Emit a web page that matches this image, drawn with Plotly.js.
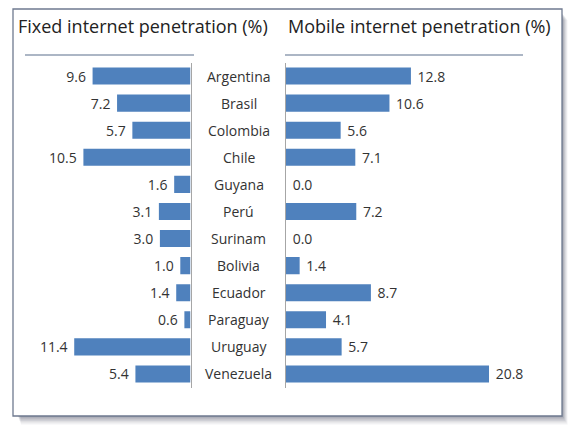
<!DOCTYPE html>
<html>
<head>
<meta charset="utf-8">
<script src="https://cdn.plot.ly/plotly-3.0.1.min.js"></script>
<style>html,body{margin:0;padding:0;background:#fff;}#chart{width:570px;height:429px;}</style>
</head>
<body>
<div id="chart"></div>
<script>
const countries = ["Argentina","Brasil","Colombia","Chile","Guyana","Perú","Surinam","Bolivia","Ecuador","Paraguay","Uruguay","Venezuela"];
const fixedPen = [9.6,7.2,5.7,10.5,1.6,3.1,3.0,1.0,1.4,0.6,11.4,5.4];
const mobilePen = [12.8,10.6,5.6,7.1,0.0,7.2,0.0,1.4,8.7,4.1,5.7,20.8];
const fixedTitle = "Fixed internet penetration (%)";
const mobileTitle = "Mobile internet penetration (%)";

const W = 570, H = 429;
const px = v => v / W, py = v => 1 - v / H;
const FONT = "'Open Sans', sans-serif";
const barColor = "#4F81BD";
const txt = "#333333";

const traces = [
  {type:"bar", orientation:"h", y:countries, x:fixedPen, xaxis:"x", yaxis:"y",
   marker:{color:barColor}, texttemplate:"%{x:.1f}\u00a0", textposition:"outside", constraintext:"none",
   textfont:{family:FONT,size:14,color:txt}, cliponaxis:false, hoverinfo:"none"},
  {type:"bar", orientation:"h", y:countries, x:mobilePen, xaxis:"x2", yaxis:"y2",
   marker:{color:barColor}, texttemplate:"\u00a0%{x:.1f}", textposition:"outside", constraintext:"none",
   textfont:{family:FONT,size:14,color:txt}, cliponaxis:false, hoverinfo:"none"}
];

const ydom = [py(387.5), py(62.5)];
const annotations = countries.map(c => ({
  x: px(238.5), xref:"paper", y:c, yref:"y", text:c, showarrow:false,
  xanchor:"center", yanchor:"middle", font:{family:FONT,size:14,color:txt}
}));
annotations.push({x:px(16), y:py(26), xref:"paper", yref:"paper", text:fixedTitle, showarrow:false,
  xanchor:"left", yanchor:"middle", font:{family:FONT,size:18,color:"#222"}});
annotations.push({x:px(286), y:py(26), xref:"paper", yref:"paper", text:mobileTitle, showarrow:false,
  xanchor:"left", yanchor:"middle", font:{family:FONT,size:18,color:"#222"}});

const shapes = [];
// shadow
for (let i = 0; i < 7; i++) {
  shapes.push({type:"rect", xref:"paper", yref:"paper", layer:"below",
    x0:px(18+i*0.5), x1:px(563+i*0.8), y0:py(417+i*1.3), y1:py(14+i),
    line:{width:0}, fillcolor:"rgba(50,60,80,"+(0.13-i*0.015)+")"});
}
shapes.push({type:"rect", xref:"paper", yref:"paper", layer:"below",
  x0:px(13), x1:px(562), y0:py(416), y1:py(9),
  line:{width:1.3,color:"#6f7a90"}, fillcolor:"#ffffff"});
shapes.push({type:"line", xref:"paper", yref:"paper", x0:px(25), x1:px(194), y0:py(55), y1:py(55),
  line:{width:1.2,color:"#5b6e8c"}});
shapes.push({type:"line", xref:"paper", yref:"paper", x0:px(285), x1:px(523), y0:py(55), y1:py(55),
  line:{width:1.2,color:"#5b6e8c"}});

const layout = {
  width:W, height:H, margin:{l:0,r:0,t:0,b:0},
  paper_bgcolor:"#ffffff", plot_bgcolor:"rgba(0,0,0,0)",
  showlegend:false, bargap:0.37, font:{family:FONT},
  xaxis:{domain:[px(20),px(190.5)], range:[170.5/10.2,0], showgrid:false, zeroline:false,
    showticklabels:false, showline:false, fixedrange:true},
  yaxis:{domain:ydom, range:[11.5,-0.5], type:"category", anchor:"x", side:"right",
    showgrid:false, zeroline:false, showticklabels:false, showline:true, linecolor:"#a6a6a6", linewidth:1, ticks:""},
  xaxis2:{domain:[px(286),px(550)], range:[0,264/9.76], showgrid:false, zeroline:false,
    showticklabels:false, showline:false, fixedrange:true},
  yaxis2:{domain:ydom, range:[11.5,-0.5], type:"category", anchor:"x2", side:"left",
    showgrid:false, zeroline:false, showticklabels:false, showline:true, linecolor:"#a6a6a6", linewidth:1, ticks:""},
  annotations, shapes
};
Plotly.newPlot("chart", traces, layout, {staticPlot:true, displayModeBar:false});
</script>
</body>
</html>
